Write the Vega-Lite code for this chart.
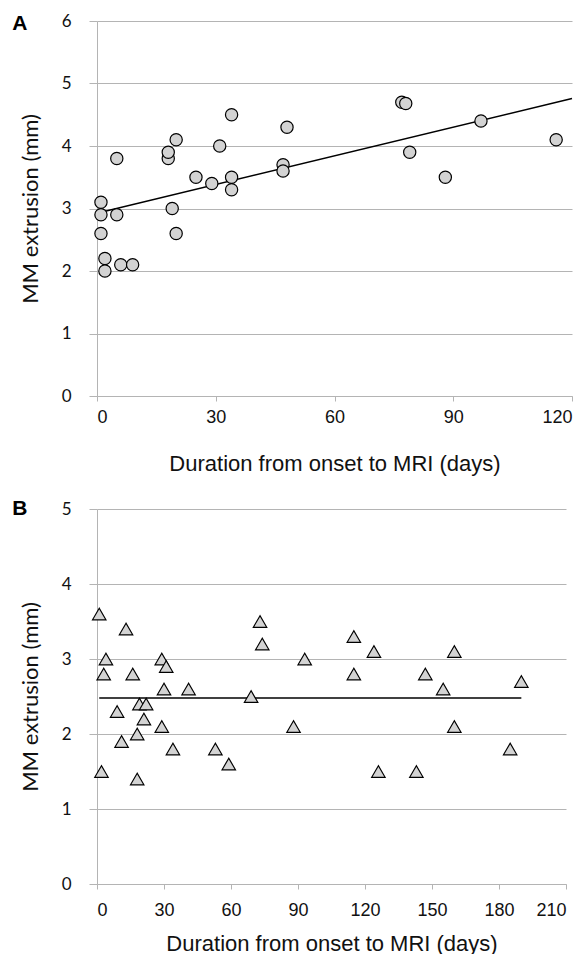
{
  "$schema": "https://vega.github.io/schema/vega-lite/v6.json",
  "padding": {"left": 12, "top": 12, "right": 10, "bottom": 0},
  "background": "white",
  "spacing": 24,
  "config": {
    "view": {"stroke": null},
    "axis": {
      "gridColor": "#b4b4b4", "domainColor": "#b4b4b4", "tickColor": "#b4b4b4",
      "labelColor": "#111", "titleColor": "#111", "titleFontWeight": "normal"
    }
  },
  "datasets": {
    "a": [
      {"day": 1, "mm": 3.1}, {"day": 1, "mm": 2.9}, {"day": 5, "mm": 2.9}, {"day": 1, "mm": 2.6},
      {"day": 2, "mm": 2.2}, {"day": 2, "mm": 2.0}, {"day": 6, "mm": 2.1}, {"day": 9, "mm": 2.1},
      {"day": 5, "mm": 3.8}, {"day": 18, "mm": 3.8}, {"day": 18, "mm": 3.9}, {"day": 20, "mm": 4.1},
      {"day": 19, "mm": 3.0}, {"day": 20, "mm": 2.6}, {"day": 25, "mm": 3.5}, {"day": 29, "mm": 3.4},
      {"day": 31, "mm": 4.0}, {"day": 34, "mm": 4.5}, {"day": 34, "mm": 3.5}, {"day": 34, "mm": 3.3},
      {"day": 47, "mm": 3.7}, {"day": 47, "mm": 3.6}, {"day": 48, "mm": 4.3}, {"day": 77, "mm": 4.7},
      {"day": 78, "mm": 4.68}, {"day": 79, "mm": 3.9}, {"day": 88, "mm": 3.5}, {"day": 97, "mm": 4.4},
      {"day": 116, "mm": 4.1}
    ],
    "atrend": [{"day": 1, "mm": 2.94}, {"day": 120, "mm": 4.76}],
    "b": [
      {"day": 1, "mm": 3.6}, {"day": 13, "mm": 3.4}, {"day": 4, "mm": 3.0}, {"day": 3, "mm": 2.8},
      {"day": 16, "mm": 2.8}, {"day": 29, "mm": 3.0}, {"day": 31, "mm": 2.9}, {"day": 30, "mm": 2.6},
      {"day": 41, "mm": 2.6}, {"day": 9, "mm": 2.3}, {"day": 19, "mm": 2.4}, {"day": 22, "mm": 2.4},
      {"day": 21, "mm": 2.2}, {"day": 18, "mm": 2.0}, {"day": 11, "mm": 1.9}, {"day": 29, "mm": 2.1},
      {"day": 34, "mm": 1.8}, {"day": 2, "mm": 1.5}, {"day": 18, "mm": 1.4}, {"day": 53, "mm": 1.8},
      {"day": 59, "mm": 1.6}, {"day": 73, "mm": 3.5}, {"day": 74, "mm": 3.2}, {"day": 69, "mm": 2.5},
      {"day": 93, "mm": 3.0}, {"day": 88, "mm": 2.1}, {"day": 115, "mm": 3.3}, {"day": 124, "mm": 3.1},
      {"day": 160, "mm": 3.1}, {"day": 115, "mm": 2.8}, {"day": 147, "mm": 2.8}, {"day": 155, "mm": 2.6},
      {"day": 190, "mm": 2.7}, {"day": 160, "mm": 2.1}, {"day": 185, "mm": 1.8}, {"day": 126, "mm": 1.5},
      {"day": 143, "mm": 1.5}
    ],
    "btrend": [{"day": 1, "mm": 2.48}, {"day": 190, "mm": 2.48}]
  },
  "vconcat": [
    {
      "width": 475, "height": 375,
      "title": {"text": "A", "anchor": "start", "frame": "bounds", "font": "Liberation Sans", "fontSize": 21, "fontWeight": "bold", "color": "#000", "baseline": "middle", "offset": 0, "dy": 33, "dx": -7},
      "layer": [
        {
          "data": {"name": "atrend"},
          "mark": {"type": "line", "color": "#000", "strokeWidth": 1.4},
          "encoding": {
            "x": {"field": "day", "type": "quantitative"},
            "y": {"field": "mm", "type": "quantitative"}
          }
        },
        {
          "data": {"name": "a"},
          "mark": {"type": "point", "shape": "circle", "filled": true, "fill": "#d3d3d3", "stroke": "#000", "strokeWidth": 1.2, "size": 150, "opacity": 1},
          "encoding": {
            "x": {"field": "day", "type": "quantitative", "scale": {"domain": [0, 120], "nice": false},
              "axis": {"values": [0, 30, 60, 90, 120], "format": "d", "grid": false, "tickSize": 5, "labelPadding": 7, "labelFont": "Liberation Sans", "labelFontSize": 18, "title": "Duration from onset to MRI (days)", "titleFont": "Liberation Sans", "titleFontSize": 22, "titlePadding": 27}},
            "y": {"field": "mm", "type": "quantitative", "scale": {"domain": [0, 6], "nice": false},
              "axis": {"values": [0, 1, 2, 3, 4, 5, 6], "format": "d", "grid": true, "tickSize": 8, "labelPadding": 18, "labelFont": "Lato", "labelFontSize": 17, "title": "MM extrusion (mm)", "titleFont": "Lato", "titleFontSize": 22, "titlePadding": 19}}
          }
        }
      ]
    },
    {
      "width": 469, "height": 375,
      "title": {"text": "B", "anchor": "start", "frame": "bounds", "font": "Liberation Sans", "fontSize": 21, "fontWeight": "bold", "color": "#000", "baseline": "middle", "offset": 0, "dy": 30, "dx": -7},
      "layer": [
        {
          "data": {"name": "btrend"},
          "mark": {"type": "line", "color": "#000", "strokeWidth": 1.4},
          "encoding": {
            "x": {"field": "day", "type": "quantitative"},
            "y": {"field": "mm", "type": "quantitative"}
          }
        },
        {
          "data": {"name": "b"},
          "mark": {"type": "point", "shape": "triangle-up", "filled": true, "fill": "#d3d3d3", "stroke": "#000", "strokeWidth": 1.2, "size": 180, "opacity": 1},
          "encoding": {
            "x": {"field": "day", "type": "quantitative", "scale": {"domain": [0, 210], "nice": false},
              "axis": {"values": [0, 30, 60, 90, 120, 150, 180, 210], "format": "d", "grid": false, "tickSize": 5, "labelPadding": 12, "labelFont": "Liberation Sans", "labelFontSize": 18, "title": "Duration from onset to MRI (days)", "titleFont": "Liberation Sans", "titleFontSize": 22, "titlePadding": 14}},
            "y": {"field": "mm", "type": "quantitative", "scale": {"domain": [0, 5], "nice": false},
              "axis": {"values": [0, 1, 2, 3, 4, 5], "format": "d", "grid": true, "tickSize": 8, "labelPadding": 18, "labelFont": "Lato", "labelFontSize": 17, "title": "MM extrusion (mm)", "titleFont": "Lato", "titleFontSize": 22, "titlePadding": 19}}
          }
        }
      ]
    }
  ]
}
